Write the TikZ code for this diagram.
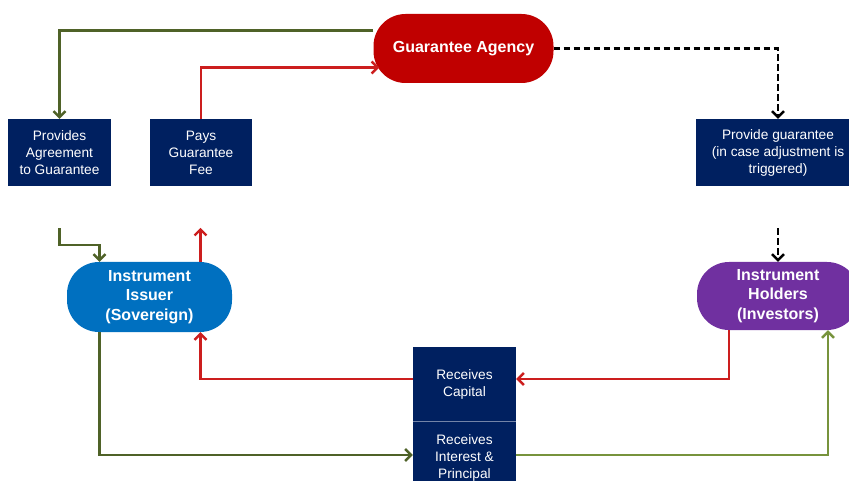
\documentclass[tikz,border=0pt]{standalone}
\usepackage{fontspec}
\setmainfont{Liberation Sans}
\usepackage{tikz}
\usetikzlibrary{arrows.meta}
\definecolor{navyfill}{HTML}{002060}
\definecolor{agencyred}{HTML}{C00000}
\definecolor{issuerblue}{HTML}{0070C0}
\definecolor{holderpurple}{HTML}{7030A0}
\definecolor{flowred}{HTML}{CC1E1E}
\definecolor{flowgreen}{HTML}{4F6228}
\definecolor{flowlightgreen}{HTML}{77933C}
\tikzset{
  actionbox/.style={rectangle, fill=navyfill, text=white, align=center, inner sep=0pt, font=\fontsize{13.7}{17}\selectfont},
  partybox/.style={rectangle, rounded corners=32pt, text=white, align=center, inner sep=0pt, font=\fontsize{16}{19.5}\selectfont\bfseries},
  flow/.style={line width=2.6pt, -{Straight Barb[length=6pt,width=12pt,line width=2.4pt]}},
  dashflow/.style={flow, dash pattern=on 6.5pt off 3.5pt, line width=2.8pt}
}
\newcommand{\faactionnode}[5] {\node at (#1) (#2) [actionbox, minimum width=#3pt, minimum height=#4pt] {#5};}
\newcommand{\fapartynode}[5] {\node at (#1) (#2) [partybox, fill=#3, minimum width=#4pt, minimum height=#5pt] {\fapartytext};}
\newcommand{\fapartytext}{}

\begin{document}
\begin{tikzpicture}[x=1pt, y=-1pt]

\clip (0,0) rectangle (849,481);

\renewcommand{\fapartytext}{Guarantee Agency}
\fapartynode {463.5,48.5}{agency}{agencyred}{180}{69};
\renewcommand{\fapartytext}{Instrument\\Issuer\\(Sovereign)}
\fapartynode {149.5,297}{issuer}{issuerblue}{165}{70};
\renewcommand{\fapartytext}{Instrument\\Holders\\(Investors)}
\fapartynode {778,296}{holders}{holderpurple}{162}{68};

\faactionnode {59.5,152.5}{provides}{103}{67}{Provides\\Agreement\\to Guarantee};
\faactionnode {201,152.5}{pays}{102}{67}{Pays\\Guarantee\\Fee};
\faactionnode {778,152.5}{guar}{164}{67}{Provide guarantee\\(in case adjustment is\\triggered)};
\faactionnode {464.5,384}{capital}{103}{74}{Receives\\Capital};
\faactionnode {464.5,458}{interest}{103}{74}{Receives\\Interest \&\\Principal};
\draw [line width=0.6pt, navyfill!55!white] (capital.south west) -- (capital.south east);

\coordinate (agreeout) at ([yshift=-42pt]provides.south);
\coordinate (feeout) at ([xshift=51pt, yshift=34pt]issuer.north);
\coordinate (guarout) at ([yshift=-42pt]guar.south);

\draw [flow, flowgreen] ([yshift=18pt]agency.west) -| (provides.north);
\draw [flow, flowred] (pays.north) |- ([xshift=6pt, yshift=-19pt]agency.west);
\draw [dashflow, black] (agency.east) -| (guar.north);

\draw [flow, flowgreen] (agreeout) -- ++(0,17) -| ([xshift=-50pt]issuer.north);
\draw [flow, flowred] ([xshift=51pt]issuer.north) -- (feeout);
\draw [dashflow, black] (guarout) -- (holders.north);

\draw [flow, flowred] ([xshift=-49pt]holders.south) |- ([yshift=5pt]capital.east);
\draw [flow, flowred] ([yshift=5pt]capital.west) -| ([xshift=51pt]issuer.south);
\draw [flow, flowgreen] ([xshift=-50pt]issuer.south) |- ([yshift=3pt]interest.west);
\draw [flow, flowlightgreen] ([yshift=3pt]interest.east) -| ([xshift=50pt]holders.south);

\end{tikzpicture}
\end{document}
